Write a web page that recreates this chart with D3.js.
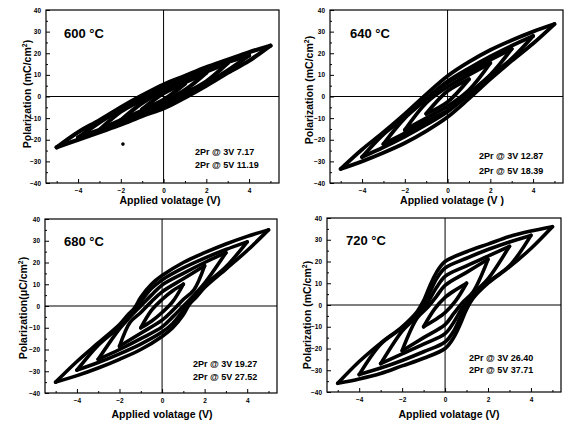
<!DOCTYPE html>
<html><head><meta charset="utf-8">
<script src="https://cdn.jsdelivr.net/npm/d3@7"></script>
<style>
body{margin:0;background:#fff}
svg{display:block}
text{font-family:"Liberation Sans",Arial,sans-serif;font-weight:bold;fill:#000}
</style>
</head><body>
<svg id="c" width="565" height="424"></svg>
<script>
// ---------- data ----------
const temperatures = ["600 \u00B0C", "640 \u00B0C", "680 \u00B0C", "720 \u00B0C"];
const pr3V = [7.17, 12.87, 19.27, 26.40];
const pr5V = [11.19, 18.39, 27.52, 37.71];
const voltageTicks = [-4, -2, 0, 2, 4];
const voltageMinor = [-5, -3, -1, 1, 3, 5];
const polarTicks = [-40, -30, -20, -10, 0, 10, 20, 30, 40];
const polarMinor = [-35, -25, -15, -5, 5, 15, 25, 35];
const xTitles = ["Applied volatage (V)", "Applied volatage (V )", "Applied volatage (V)", "Applied volatage (V)"];
const yTitles = ["Polarization (mC/cm", "Polarization (mC/cm", "Polarization(\u03BCC/cm", "Polarization (mC/cm"];
const strayPoints600 = [[-1.9, -22]];

// loops: amplitude 5V, 4V, 3V, 2V, 1V ; upper (descending) and lower (ascending) branches [V, P]
const up600 = [
 [[5,23.5],[4,20.5],[3,17],[2,13.5],[1,9.5],[0,5.5],[-1,0.5],[-2,-5],[-3,-11],[-4,-16.5],[-5,-23.5]],
 [[4,19],[3,16],[2,12.5],[1,8.5],[0,4.5],[-1,-0.5],[-2,-6],[-3,-12],[-4,-19]],
 [[3,15.5],[2,11.5],[1,7.5],[0,3.6],[-1,-1.5],[-2,-7],[-3,-15.5]],
 [[2,11],[1,6.5],[0,2.5],[-1,-3],[-2,-11]],
 [[1,6],[0,1.5],[-1,-6]]
];
const lo600 = [
 [[-5,-23.5],[-4,-20],[-3,-16.5],[-2,-13],[-1,-9],[0,-5.5],[1,-0.5],[2,5],[3,11],[4,16.5],[5,23.5]],
 [[-4,-19],[-3,-15.5],[-2,-12],[-1,-8],[0,-4.5],[1,0.5],[2,6],[3,12],[4,19]],
 [[-3,-15.5],[-2,-11],[-1,-7],[0,-3.6],[1,1.5],[2,7],[3,15.5]],
 [[-2,-11],[-1,-6.5],[0,-2.5],[1,3],[2,11]],
 [[-1,-6],[0,-1.5],[1,6]]
];
const up640 = [
 [[5,33.5],[4,30],[3,26],[2,21.5],[1,16],[0,9.5],[-1,1],[-2,-8],[-3,-16.5],[-4,-24.5],[-5,-33.5]],
 [[4,28],[3,23.5],[2,18.5],[1,13],[0,7],[-1,-1],[-2,-9.5],[-3,-17.5],[-4,-28]],
 [[3,22],[2,17],[1,11.5],[0,6.4],[-1,-1.5],[-2,-10],[-3,-22]],
 [[2,15.5],[1,10],[0,4.5],[-1,-3],[-2,-15.5]],
 [[1,8],[0,2.5],[-1,-8]]
];
const lo640 = [
 [[-5,-33.5],[-4,-30],[-3,-26],[-2,-21.5],[-1,-16],[0,-9.5],[1,-1],[2,8],[3,16.5],[4,24.5],[5,33.5]],
 [[-4,-28],[-3,-23.5],[-2,-18.5],[-1,-13],[0,-7],[1,1],[2,9.5],[3,17.5],[4,28]],
 [[-3,-22],[-2,-17],[-1,-11.5],[0,-6.4],[1,1.5],[2,10],[3,22]],
 [[-2,-15.5],[-1,-10],[0,-4.5],[1,3],[2,15.5]],
 [[-1,-8],[0,-2.5],[1,8]]
];
const up680 = [
 [[5,35],[4,32],[3,28.5],[2,24.5],[1,20],[0,14],[-0.5,10],[-1,4],[-1.3,-1],[-1.6,-4],[-2,-8.5],[-3,-17],[-4,-25.5],[-5,-35]],
 [[4,29.5],[3,26],[2,22],[1,17.5],[0,12],[-0.5,8],[-1,2],[-1.3,-2],[-2,-9.5],[-3,-18],[-4,-29.5]],
 [[3,24.5],[2,20],[1,15],[0,9.6],[-0.5,5],[-1,0],[-1.5,-5],[-2,-10.5],[-3,-24.5]],
 [[2,18.5],[1,12.5],[0,6.5],[-0.5,2],[-1,-3],[-1.5,-7.5],[-2,-18.5]],
 [[1,10],[0.5,7],[0,3],[-0.5,-2],[-1,-10]]
];
const lo680 = [
 [[-5,-35],[-4,-32],[-3,-28.5],[-2,-24.5],[-1,-20],[0,-14],[0.5,-10],[1,-4],[1.3,1],[1.6,4],[2,8.5],[3,17],[4,25.5],[5,35]],
 [[-4,-29.5],[-3,-26],[-2,-22],[-1,-17.5],[0,-12],[0.5,-8],[1,-2],[1.3,2],[2,9.5],[3,18],[4,29.5]],
 [[-3,-24.5],[-2,-20],[-1,-15],[0,-9.6],[0.5,-5],[1,0],[1.5,5],[2,10.5],[3,24.5]],
 [[-2,-18.5],[-1,-12.5],[0,-6.5],[0.5,-2],[1,3],[1.5,7.5],[2,18.5]],
 [[-1,-10],[-0.5,-7],[0,-3],[0.5,2],[1,10]]
];
const up720 = [
 [[5,36],[4,34],[3,31.5],[2,28],[1,24.5],[0,20],[-0.4,15],[-0.7,9],[-1,2],[-1.3,-3],[-2,-10],[-3,-17.5],[-4,-26],[-5,-36]],
 [[4,32],[3,29],[2,25.5],[1,21.5],[0,17],[-0.4,12],[-0.7,6],[-1,0],[-1.3,-4],[-2,-10.5],[-3,-18],[-4,-32]],
 [[3,27],[2,22.5],[1,18],[0,13.2],[-0.4,8],[-0.7,3],[-1,-2],[-1.5,-7],[-2,-12],[-3,-27]],
 [[2,21],[1,15],[0,9],[-0.4,4],[-0.8,-1],[-1.3,-6],[-2,-21]],
 [[1,10],[0.5,7],[0,3.5],[-0.5,-2],[-1,-10]]
];
const lo720 = [
 [[-5,-36],[-4,-34],[-3,-31.5],[-2,-28],[-1,-24.5],[0,-20],[0.4,-15],[0.7,-9],[1,-2],[1.3,3],[2,10],[3,17.5],[4,26],[5,36]],
 [[-4,-32],[-3,-29],[-2,-25.5],[-1,-21.5],[0,-17],[0.4,-12],[0.7,-6],[1,0],[1.3,4],[2,10.5],[3,18],[4,32]],
 [[-3,-27],[-2,-22.5],[-1,-18],[0,-13.2],[0.4,-8],[0.7,-3],[1,2],[1.5,7],[2,12],[3,27]],
 [[-2,-21],[-1,-15],[0,-9],[0.4,-4],[0.8,1],[1.3,6],[2,21]],
 [[-1,-10],[-0.5,-7],[0,-3.5],[0.5,2],[1,10]]
];
const upperBranches = [up600, up640, up680, up720];
const lowerBranches = [lo600, lo640, lo680, lo720];

// ---------- layout ----------
const layout = [
 {l:46, r:279, t:10, b:183, temp:[64,38], ann:[195,155,168], xt:[170,204], yt:[27,94], sw:4.2},
 {l:330, r:563, t:10, b:183, temp:[350,38], ann:[479,159,174], xt:[452,204], yt:[309,90], sw:3.8},
 {l:45, r:277, t:219, b:393, temp:[64,246], ann:[193,367,380], xt:[162,418], yt:[23,308], sw:3.6},
 {l:327, r:561, t:218, b:392, temp:[346,245], ann:[469,361,373], xt:[449,418], yt:[307,315], sw:3.6}
];

const svg = d3.select("#c");

layout.forEach((L, i) => {
  const x = d3.scaleLinear().domain([-5.5, 5.4]).range([L.l, L.r]);
  const y = d3.scaleLinear().domain([-40, 40]).range([L.b, L.t]);
  const g = svg.append("g");

  g.append("g").attr("transform", `translate(0,${L.b})`)
    .call(d3.axisBottom(x).tickValues(voltageTicks).tickSizeInner(-4).tickSizeOuter(0).tickPadding(5).tickFormat(d3.format("d")));
  g.append("g").attr("transform", `translate(0,${L.b})`)
    .call(d3.axisBottom(x).tickValues(voltageMinor).tickSizeInner(-2).tickSizeOuter(0).tickFormat(""));
  g.append("g").attr("transform", `translate(${L.l},0)`)
    .call(d3.axisLeft(y).tickValues(polarTicks).tickSizeInner(-4).tickSizeOuter(0).tickPadding(5).tickFormat(d3.format("d")));
  g.append("g").attr("transform", `translate(${L.l},0)`)
    .call(d3.axisLeft(y).tickValues(polarMinor).tickSizeInner(-2).tickSizeOuter(0).tickFormat(""));
  g.selectAll(".domain").remove();
  g.selectAll(".tick line").attr("stroke", "#000").attr("stroke-width", 1);
  g.selectAll(".tick text").style("font-size", "6.5px").style("font-family", "'Liberation Sans',Arial,sans-serif").style("font-weight", "bold");

  g.append("rect").attr("x", L.l).attr("y", L.t).attr("width", L.r - L.l).attr("height", L.b - L.t)
    .attr("fill", "none").attr("stroke", "#000").attr("stroke-width", 1.2);

  g.append("line").attr("x1", x(0)).attr("x2", x(0)).attr("y1", L.t).attr("y2", L.b).attr("stroke", "#000").attr("stroke-width", 1);
  g.append("line").attr("x1", L.l).attr("x2", L.r).attr("y1", y(0)).attr("y2", y(0)).attr("stroke", "#000").attr("stroke-width", 1);

  const line = d3.line().x(d => x(d[0])).y(d => y(d[1])).curve(d3.curveCatmullRom.alpha(0.5));
  const branches = upperBranches[i].concat(lowerBranches[i]);
  g.append("g").selectAll("path").data(branches).join("path")
    .attr("d", line).attr("fill", "none").attr("stroke", "#000")
    .attr("stroke-width", L.sw).attr("stroke-linejoin", "round").attr("stroke-linecap", "round");

  if (i === 0) {
    g.selectAll("circle.stray").data(strayPoints600).join("circle")
      .attr("cx", d => x(d[0])).attr("cy", d => y(d[1])).attr("r", 1.8).attr("fill", "#000");
  }

  g.append("text").attr("x", L.temp[0]).attr("y", L.temp[1]).style("font-size", "13px").text(temperatures[i]);
  g.append("text").attr("x", L.ann[0]).attr("y", L.ann[1]).style("font-size", "9px").text("2Pr @ 3V " + pr3V[i].toFixed(2));
  g.append("text").attr("x", L.ann[0]).attr("y", L.ann[2]).style("font-size", "9px").text("2Pr @ 5V " + pr5V[i].toFixed(2));
  g.append("text").attr("x", L.xt[0]).attr("y", L.xt[1]).attr("text-anchor", "middle").style("font-size", "10.5px").text(xTitles[i]);
  const yt = g.append("text").attr("transform", `translate(${L.yt[0]},${L.yt[1]}) rotate(-90)`)
    .attr("text-anchor", "middle").attr("dy", "0.35em").style("font-size", "10.5px");
  yt.append("tspan").text(yTitles[i]);
  yt.append("tspan").attr("dy", -4).style("font-size", "7px").text("2");
  yt.append("tspan").attr("dy", 4).text(")");
});
</script>
</body></html>
